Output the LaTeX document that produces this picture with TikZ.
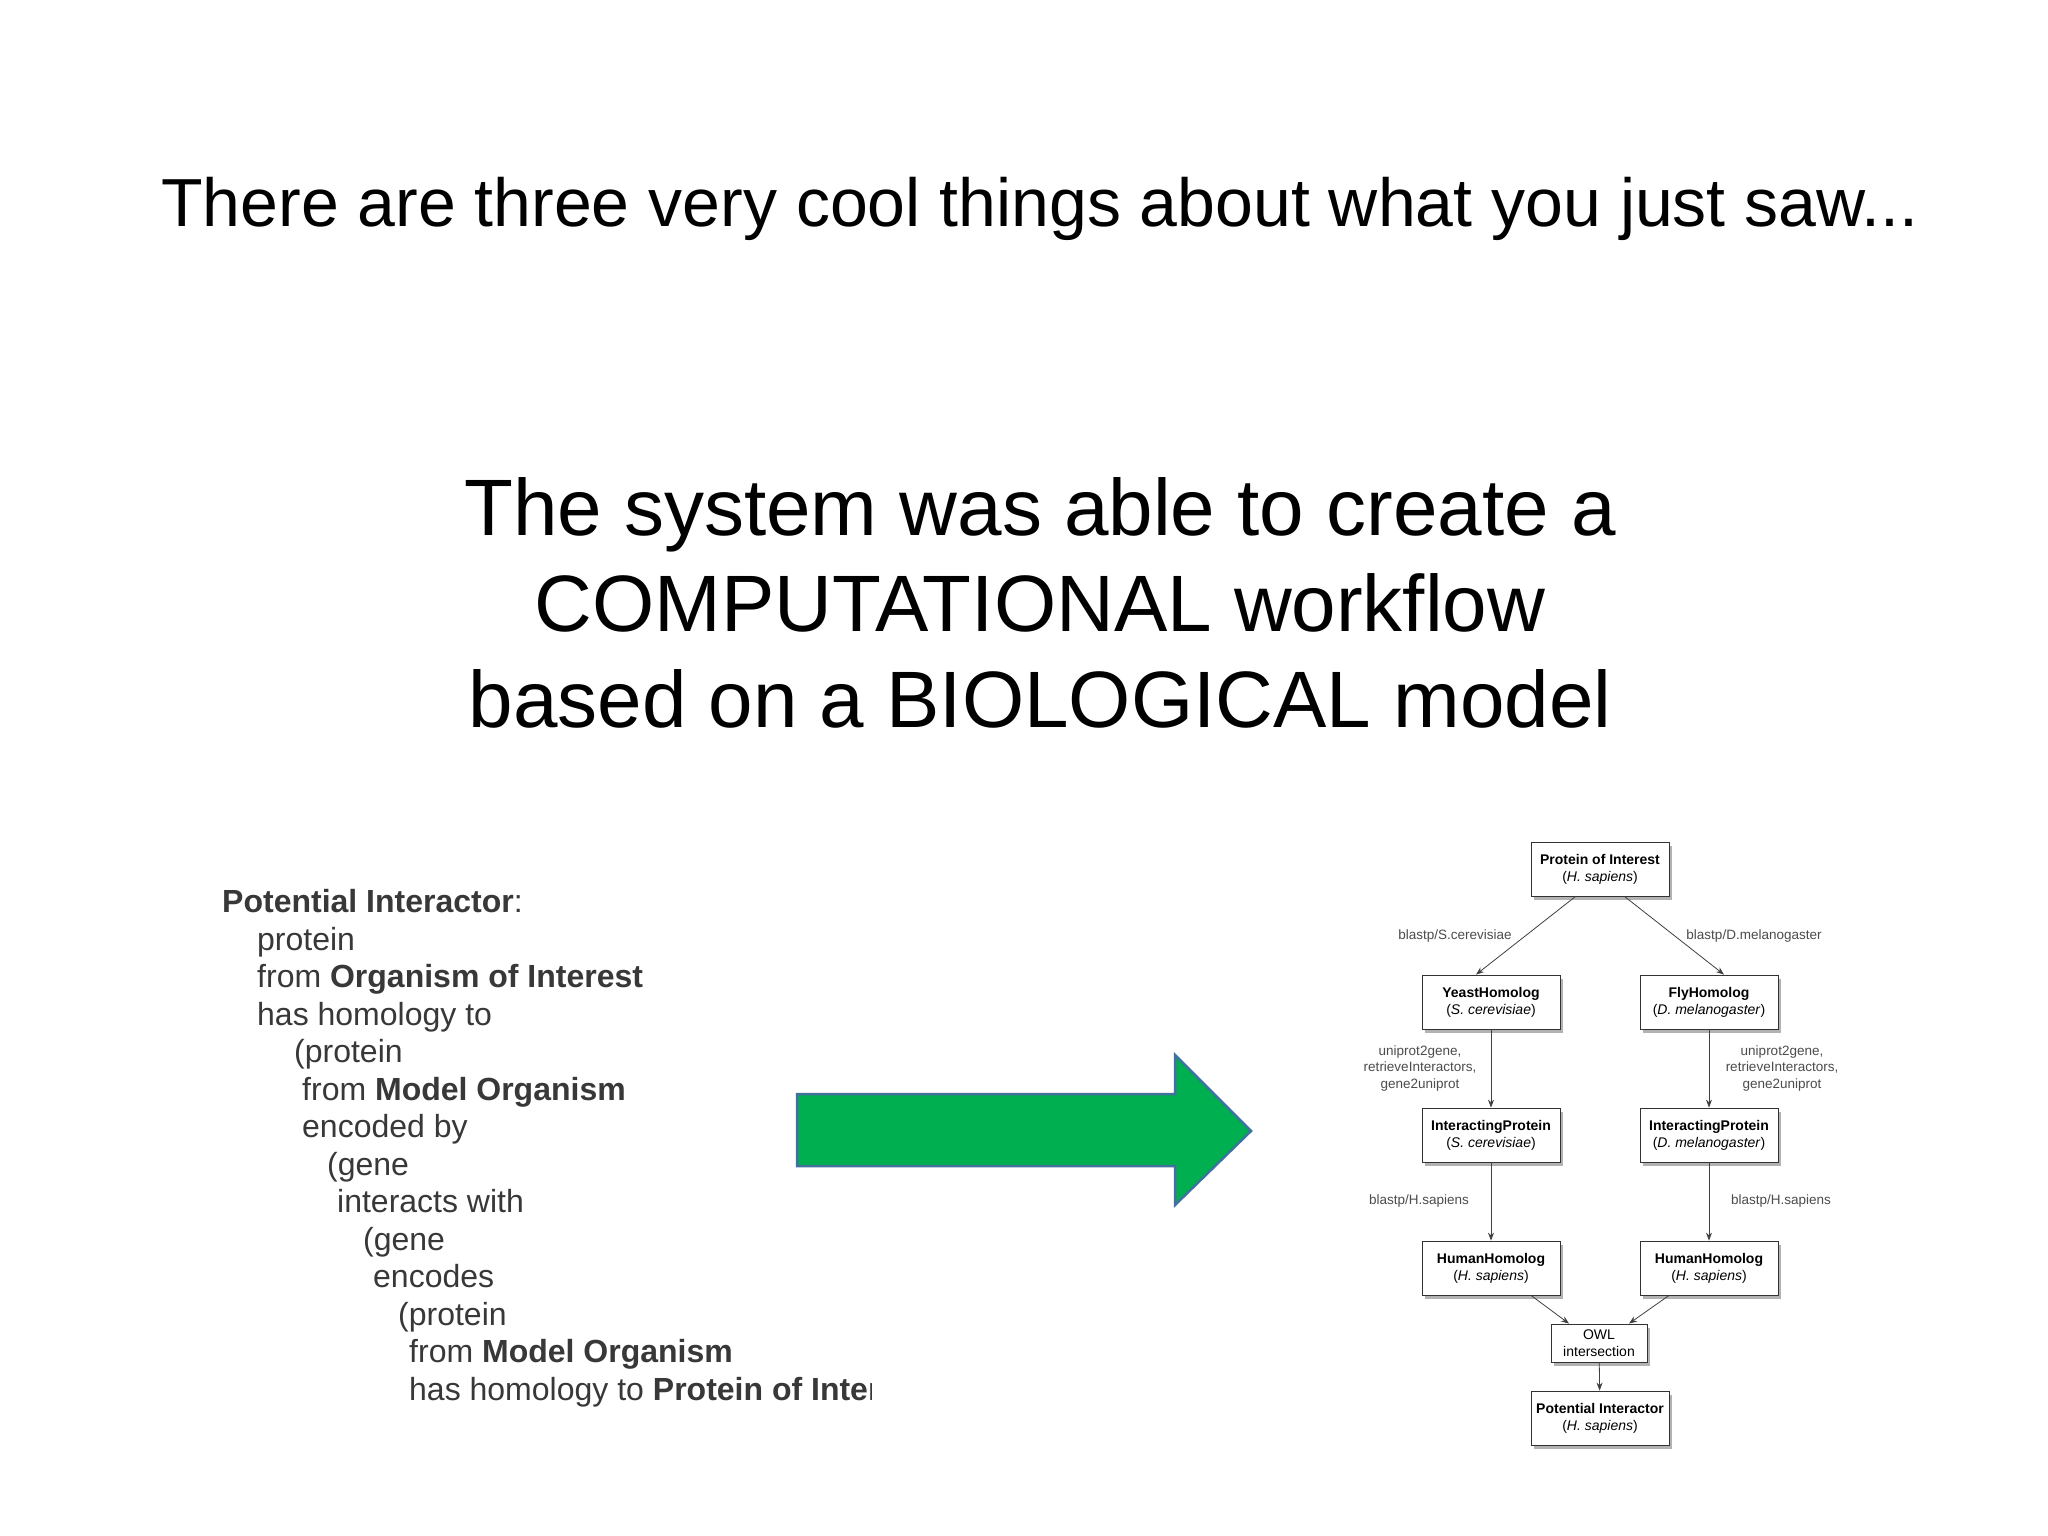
\documentclass[tikz,border=0pt]{standalone}
\usepackage{fontspec}
\setmainfont{Liberation Sans}
\usetikzlibrary{shadows,arrows.meta}
\begin{document}
\begin{tikzpicture}[x=1pt,y=-1pt,
  wbox/.style={draw=black!80,fill=white,line width=0.8pt,minimum width=138pt,minimum height=54pt,align=center,font=\fontsize{14}{17}\selectfont,drop shadow={shadow xshift=3pt,shadow yshift=-4pt,opacity=0.5,fill=black!60}},
  wlab/.style={text=black!70,align=center,font=\fontsize{13.5}{16.5}\selectfont},
  warr/.style={draw=black!75,line width=0.8pt,-{Stealth[length=8pt,width=6pt]}},
  lt/.style={anchor=base west,inner sep=0,text=black!78,font=\fontsize{32}{36}\selectfont}]
\useasboundingbox (0,0) rectangle (2048,1536);
\fill[white] (0,0) rectangle (2048,1536);
\node[font=\fontsize{68}{80}\selectfont] (title) at (1040,209) {There are three very cool things about what you just saw...};
\node[font=\fontsize{80}{96}\selectfont,align=center] (main) at (1040,603) {The system was able to create a\\COMPUTATIONAL workflow\\based on a BIOLOGICAL model};
% left text
\begin{scope}
\clip (200,860) rectangle (871,1420);
\node[lt] (l1) at (222,912) {\textbf{Potential Interactor}:};
\node[lt] (l2) at (257,950) {protein};
\node[lt] (l3) at (257,987) {from \textbf{Organism of Interest}};
\node[lt] (l4) at (257,1025) {has homology to};
\node[lt] (l5) at (294,1062) {(protein};
\node[lt] (l6) at (302,1100) {from \textbf{Model Organism}};
\node[lt] (l7) at (302,1137) {encoded by};
\node[lt] (l8) at (327,1175) {(gene};
\node[lt] (l9) at (337,1212) {interacts with};
\node[lt] (l10) at (363,1250) {(gene};
\node[lt] (l11) at (373,1287) {encodes};
\node[lt] (l12) at (398,1325) {(protein};
\node[lt] (l13) at (409,1362) {from \textbf{Model Organism}};
\node[lt] (l14) at (409,1400) {has homology to \textbf{Protein of Interest}};
\end{scope}
% green arrow
\draw[fill={rgb,255:red,0;green,176;blue,80},draw={rgb,255:red,65;green,113;blue,156},line width=2.5pt,line join=miter]
 (797,1094) -- (1175,1094) -- (1175,1055) -- (1251,1131) -- (1175,1205) -- (1175,1166) -- (797,1166) -- cycle;
% workflow
\node[wbox] (poi) at (1600,869) {\textbf{Protein of Interest}\\(\textit{H. sapiens})};
\node[wbox] (yh) at (1491,1002) {\textbf{YeastHomolog}\\(\textit{S. cerevisiae})};
\node[wbox] (fh) at (1709,1002) {\textbf{FlyHomolog}\\(\textit{D. melanogaster})};
\node[wbox] (ipy) at (1491,1135) {\textbf{InteractingProtein}\\(\textit{S. cerevisiae})};
\node[wbox] (ipf) at (1709,1135) {\textbf{InteractingProtein}\\(\textit{D. melanogaster})};
\node[wbox] (hhy) at (1491,1268) {\textbf{HumanHomolog}\\(\textit{H. sapiens})};
\node[wbox] (hhf) at (1709,1268) {\textbf{HumanHomolog}\\(\textit{H. sapiens})};
\node[wbox,minimum width=96pt,minimum height=38pt] (owl) at (1599,1343) {OWL\\intersection};
\node[wbox] (pi) at (1600,1418) {\textbf{Potential Interactor}\\(\textit{H. sapiens})};
\draw[warr] (poi.south west)++(45,0) -- ([xshift=-15pt]yh.north);
\draw[warr] (poi.south east)++(-45,0) -- ([xshift=15pt]fh.north);
\draw[warr] (yh) -- (ipy);
\draw[warr] (fh) -- (ipf);
\draw[warr] (ipy) -- (hhy);
\draw[warr] (ipf) -- (hhf);
\draw[warr] ([xshift=40pt]hhy.south) -- ([xshift=-30pt]owl.north);
\draw[warr] ([xshift=-40pt]hhf.south) -- ([xshift=30pt]owl.north);
\draw[warr] (owl) -- (pi);
\node[wlab] (la) at (1455,936) {blastp/S.cerevisiae};
\node[wlab] (lb) at (1754,936) {blastp/D.melanogaster};
\node[wlab] (lc) at (1420,1068) {uniprot2gene,\\retrieveInteractors,\\gene2uniprot};
\node[wlab] (ld) at (1782,1068) {uniprot2gene,\\retrieveInteractors,\\gene2uniprot};
\node[wlab] (le) at (1419,1201) {blastp/H.sapiens};
\node[wlab] (lf) at (1781,1201) {blastp/H.sapiens};
\end{tikzpicture}
\end{document}
